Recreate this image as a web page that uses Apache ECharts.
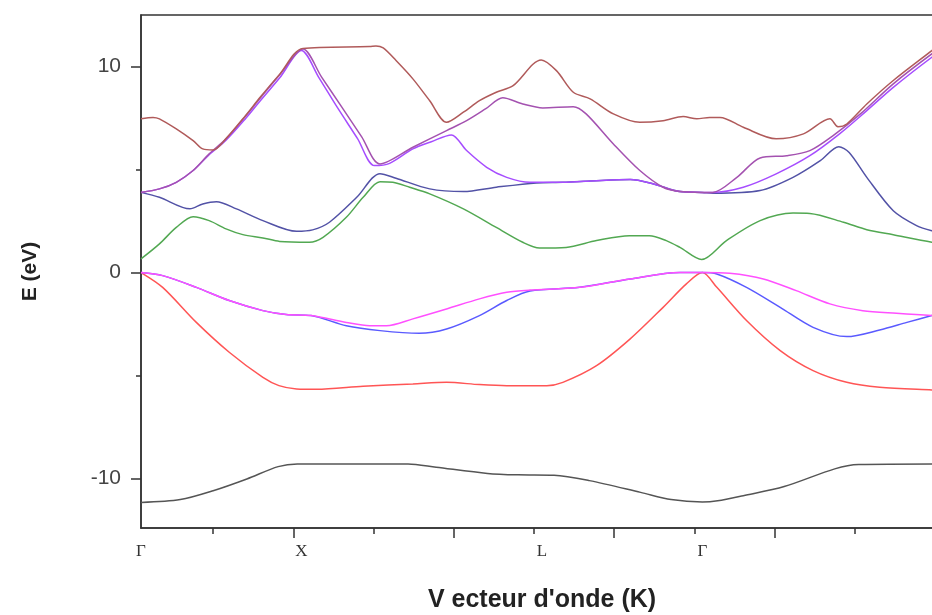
<!DOCTYPE html>
<html>
<head>
<meta charset="utf-8">
<title>Structure de bandes</title>
<script src="https://cdn.jsdelivr.net/npm/echarts@6/dist/echarts.min.js"></script>
<style>
  html, body { margin: 0; padding: 0; background: #fff; overflow: hidden; }
  #chart { width: 932px; height: 615px; }
</style>
</head>
<body>
<div id="chart"></div>
<script>
// High-symmetry points along the k-path and their labels
const kPointPositions = [0, 2, 5, 7];
const kPointLabels = ['Γ', 'X', 'L', 'Γ'];

// Tick positions
const xMajorTicks = [1.9, 3.9, 5.9, 7.9];
const xMinorTicks = [0.9, 2.9, 4.9, 6.9, 8.9];
const yMajorTicks = [-10, 0, 10];
const yMinorTicks = [-5, 5];

// Energy bands, [k, E(eV)]
const band1 = [[0,-11.16],[0.49,-11.02],[0.9,-10.59],[1.32,-10.02],[1.71,-9.42],[1.95,-9.29],[3.33,-9.29],[3.68,-9.45],[4.32,-9.75],[4.7,-9.82],[5.15,-9.84],[5.59,-10.1],[6.23,-10.67],[6.61,-11.02],[7.0,-11.14],[7.19,-11.08],[7.51,-10.83],[8.02,-10.39],[8.65,-9.53],[8.95,-9.32],[10,-9.29]];

const band2 = [[0,0],[0.27,-0.72],[0.69,-2.42],[1.10,-3.87],[1.52,-5.09],[1.72,-5.49],[1.94,-5.65],[2.19,-5.67],[2.77,-5.52],[3.39,-5.41],[3.81,-5.33],[4.22,-5.44],[4.56,-5.49],[5.06,-5.49],[5.26,-5.33],[5.68,-4.52],[6.1,-3.22],[6.51,-1.69],[6.80,-0.55],[7.0,0],[7.18,-0.72],[7.55,-2.33],[7.97,-3.79],[8.38,-4.76],[8.80,-5.33],[9.21,-5.57],[9.86,-5.70],[10,-5.72]];

const band3 = [[0,0],[0.27,-0.15],[0.69,-0.72],[1.10,-1.36],[1.52,-1.85],[1.81,-2.04],[2.12,-2.09],[2.56,-2.58],[2.98,-2.82],[3.47,-2.95],[3.81,-2.74],[4.22,-2.09],[4.56,-1.36],[4.85,-0.9],[5.47,-0.72],[6.1,-0.31],[6.72,0],[7,0],[7.18,-0.07],[7.55,-0.72],[7.97,-1.69],[8.38,-2.66],[8.80,-3.11],[9.21,-2.79],[9.55,-2.42],[9.86,-2.09],[10,-1.95]];

const band4 = [[0,0],[0.27,-0.15],[0.69,-0.72],[1.10,-1.36],[1.52,-1.85],[1.81,-2.04],[2.12,-2.09],[2.56,-2.42],[2.85,-2.58],[3.06,-2.58],[3.39,-2.25],[3.81,-1.77],[4.22,-1.28],[4.56,-0.96],[4.85,-0.85],[5.47,-0.72],[6.1,-0.31],[6.72,0],[7,0],[7.34,-0.04],[7.76,-0.31],[8.17,-0.88],[8.59,-1.52],[9.0,-1.85],[9.42,-1.98],[9.86,-2.09],[10,-2.1]];

const band5 = [[0,0.66],[0.23,1.39],[0.44,2.19],[0.65,2.71],[0.85,2.52],[1.06,2.12],[1.27,1.84],[1.52,1.68],[1.73,1.51],[2.10,1.47],[2.27,1.71],[2.56,2.68],[2.77,3.65],[2.98,4.41],[3.14,4.38],[3.35,4.14],[3.60,3.82],[4.02,3.09],[4.43,2.19],[4.76,1.47],[4.97,1.19],[5.30,1.22],[5.68,1.55],[6.09,1.79],[6.34,1.79],[6.55,1.55],[6.72,1.22],[6.99,0.63],[7.30,1.55],[7.72,2.52],[8.13,2.89],[8.34,2.87],[8.76,2.44],[9.05,2.08],[9.38,1.83],[9.86,1.47],[10,1.4]];

const band6 = [[0,3.89],[0.23,3.65],[0.61,3.09],[0.77,3.33],[0.94,3.44],[1.19,3.09],[1.52,2.52],[1.94,2.0],[2.14,2.07],[2.35,2.44],[2.69,3.65],[2.98,4.8],[3.18,4.58],[3.60,4.06],[4.02,3.93],[4.43,4.14],[4.93,4.35],[5.26,4.38],[5.68,4.46],[6.1,4.51],[6.39,4.30],[6.72,3.93],[7.0,3.89],[7.13,3.85],[7.72,3.98],[8.13,4.62],[8.47,5.43],[8.70,6.11],[8.83,5.83],[9.05,4.62],[9.38,3.0],[9.67,2.28],[9.86,2.03],[10,1.95]];

const band7 = [[0,3.89],[0.23,4.06],[0.44,4.38],[0.65,4.95],[0.85,5.72],[1.06,6.42],[1.31,7.5],[1.48,8.3],[1.73,9.45],[2.0,10.78],[2.22,9.45],[2.45,8.0],[2.70,6.5],[2.91,5.19],[3.10,5.3],[3.39,6.0],[3.62,6.35],[3.87,6.68],[4.06,5.92],[4.31,5.11],[4.56,4.62],[4.85,4.38],[5.26,4.38],[5.68,4.46],[6.1,4.51],[6.39,4.30],[6.72,3.93],[7.0,3.89],[7.13,3.89],[7.51,4.14],[7.92,4.79],[8.34,5.67],[8.71,6.73],[9.05,7.86],[9.38,8.99],[9.86,10.45],[10,10.8]];

const band8 = [[0,3.89],[0.23,4.06],[0.44,4.38],[0.65,4.95],[0.85,5.76],[1.06,6.49],[1.31,7.62],[1.48,8.43],[1.73,9.6],[2.02,10.85],[2.25,9.5],[2.50,8.05],[2.75,6.6],[2.98,5.27],[3.39,6.08],[3.81,6.89],[4.06,7.37],[4.30,7.95],[4.51,8.48],[4.76,8.18],[5.01,7.99],[5.39,8.05],[5.55,7.70],[5.89,6.24],[6.22,4.95],[6.51,4.14],[6.72,3.93],[7.0,3.89],[7.13,3.89],[7.43,4.62],[7.72,5.56],[8.05,5.67],[8.34,5.92],[8.63,6.65],[8.97,7.70],[9.38,9.16],[9.86,10.61],[10,10.95]];

const band9 = [[0,7.46],[0.15,7.53],[0.23,7.46],[0.44,6.97],[0.65,6.40],[0.77,6.0],[0.90,5.95],[1.06,6.5],[1.31,7.65],[1.48,8.48],[1.73,9.63],[2.02,10.88],[2.85,10.97],[2.93,11.0],[3.02,10.9],[3.18,10.29],[3.39,9.40],[3.60,8.34],[3.81,7.29],[4.02,7.78],[4.22,8.34],[4.43,8.75],[4.64,9.07],[4.99,10.32],[5.18,9.80],[5.39,8.75],[5.60,8.43],[5.89,7.70],[6.22,7.29],[6.51,7.37],[6.76,7.57],[6.93,7.46],[7.09,7.53],[7.22,7.53],[7.51,7.05],[7.92,6.49],[8.26,6.73],[8.59,7.46],[8.69,7.08],[8.80,7.21],[9.05,8.18],[9.38,9.32],[9.86,10.77],[10,11.2]];

const bands = [
  { data: band1, color: '#555555' },
  { data: band2, color: '#ff5555' },
  { data: band3, color: '#5a5aff' },
  { data: band4, color: '#ff50ff' },
  { data: band5, color: '#52a852' },
  { data: band6, color: '#5252a6' },
  { data: band7, color: '#a64dff' },
  { data: band8, color: '#a452b0' },
  { data: band9, color: '#b05a5a' }
];

const chart = echarts.init(document.getElementById('chart'), null, { renderer: 'canvas' });

const axisColor = '#333333';

const option = {
  animation: false,
  backgroundColor: '#ffffff',
  grid: {
    left: 141, top: 15, width: 802, height: 513,
    outerBoundsMode: 'none',
    show: true, borderColor: axisColor, borderWidth: 1.5,
    containLabel: false
  },
  xAxis: [
    {
      type: 'value', min: 0, max: 10,
      name: "V ecteur d'onde (K)",
      nameLocation: 'middle', nameGap: 60,
      nameTextStyle: { fontFamily: 'Liberation Sans, Arial, sans-serif', fontWeight: 'bold', fontSize: 25, color: '#222' },
      axisLine: { show: true, onZero: false, lineStyle: { color: axisColor, width: 1.5 } },
      axisTick: { show: true, inside: false, length: 10, customValues: xMajorTicks, lineStyle: { color: axisColor, width: 1.5 } },
      axisLabel: {
        show: true, margin: 15, customValues: kPointPositions,
        fontFamily: 'Liberation Serif, Times New Roman, serif', fontSize: 17, color: '#333',
        formatter: function (v) {
          const i = kPointPositions.indexOf(v);
          return i >= 0 ? kPointLabels[i] : '';
        }
      },
      splitLine: { show: false }
    },
    {
      type: 'value', min: 0, max: 10, position: 'bottom',
      axisLine: { show: false, onZero: false },
      axisTick: { show: true, inside: false, length: 6, customValues: xMinorTicks, lineStyle: { color: axisColor, width: 1.5 } },
      axisLabel: { show: false },
      splitLine: { show: false }
    }
  ],
  yAxis: [
    {
      type: 'value', min: -12.4, max: 12.5,
      name: 'E (eV)',
      nameLocation: 'middle', nameGap: 100, nameRotate: 90,
      nameTextStyle: { fontFamily: 'Liberation Sans, Arial, sans-serif', fontWeight: 'bold', fontSize: 21, color: '#222' },
      axisLine: { show: true, onZero: false, lineStyle: { color: axisColor, width: 1.5 } },
      axisTick: { show: true, inside: false, length: 10, customValues: yMajorTicks, lineStyle: { color: axisColor, width: 1.5 } },
      axisLabel: {
        show: true, margin: 20, customValues: yMajorTicks,
        fontFamily: 'Liberation Sans, Arial, sans-serif', fontSize: 21, color: '#444'
      },
      splitLine: { show: false }
    },
    {
      type: 'value', min: -12.4, max: 12.5, position: 'left',
      axisLine: { show: false, onZero: false },
      axisTick: { show: true, inside: false, length: 5, customValues: yMinorTicks, lineStyle: { color: axisColor, width: 1.5 } },
      axisLabel: { show: false },
      splitLine: { show: false }
    }
  ],
  series: bands.map(function (b, i) {
    return {
      type: 'line',
      xAxisIndex: 0,
      yAxisIndex: 0,
      data: b.data,
      showSymbol: false,
      smooth: 0.3,
      clip: true,
      z: 2 + i,
      lineStyle: { color: b.color, width: 1.5 }
    };
  })
};

chart.setOption(option);
</script>
</body>
</html>
